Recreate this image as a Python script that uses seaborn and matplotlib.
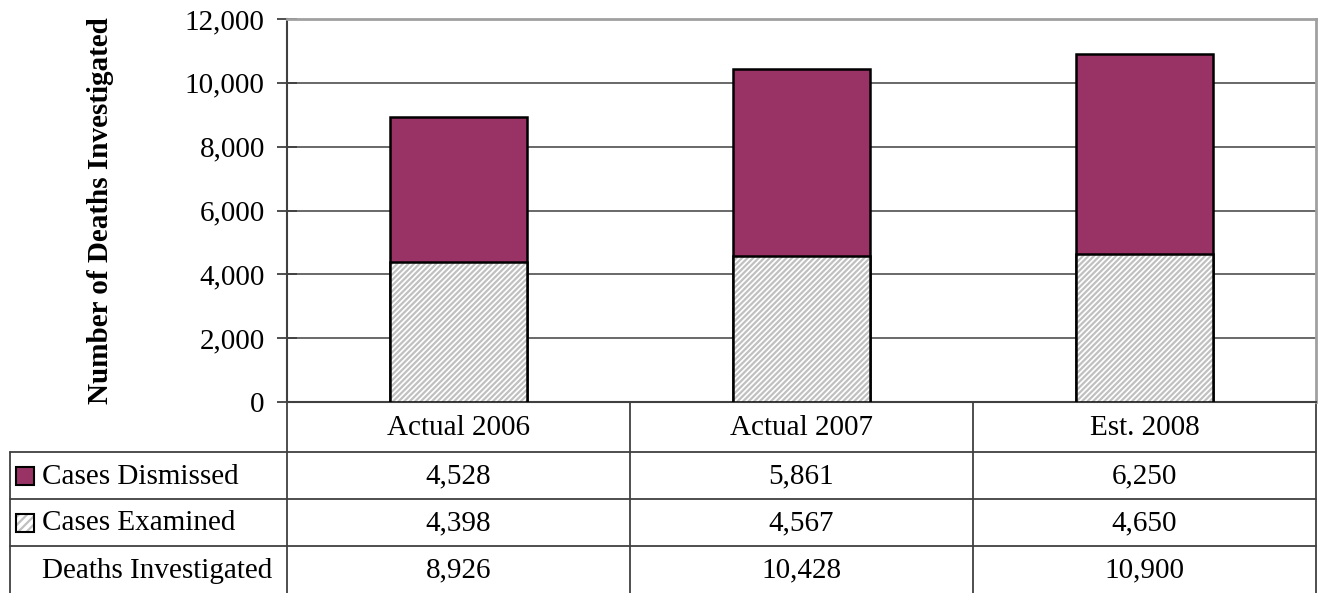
import numpy as np
import matplotlib
matplotlib.use("Agg")
import matplotlib.pyplot as plt
import seaborn as sns

# ------------------------------------------------------------
# DATA
# ------------------------------------------------------------
categories = ["Actual 2006", "Actual 2007", "Est. 2008"]
cases_dismissed = [4528, 5861, 6250]
cases_examined = [4398, 4567, 4650]
deaths_investigated = [8926, 10428, 10900]
row_labels = ["Cases Dismissed", "Cases Examined", "Deaths Investigated"]
y_ticks = [0, 2000, 4000, 6000, 8000, 10000, 12000]

MAROON = "#993366"
HATCH_GRAY = "#c0c0c0"
FS = 21

sns.set_theme(style="white")
plt.rcParams["font.family"] = ["Liberation Serif", "DejaVu Serif"]
plt.rcParams["text.color"] = "black"
plt.rcParams["axes.labelcolor"] = "black"
plt.rcParams["ytick.color"] = "black"
plt.rcParams["hatch.linewidth"] = 1.6

W, H = 1323, 593
fig = plt.figure(figsize=(W / 100, H / 100), dpi=100)

# plot area in pixel box
px_left, px_right, px_top, px_bottom = 287, 1316, 19, 402
ax = fig.add_axes([px_left / W, (H - px_bottom) / H,
                   (px_right - px_left) / W, (px_bottom - px_top) / H])

# total height = dismissed on top of examined
sns.barplot(x=categories, y=deaths_investigated, color=MAROON, width=0.4,
            edgecolor="black", linewidth=1.8, saturation=1, ax=ax, zorder=3)
sns.barplot(x=categories, y=cases_examined, color="white", width=0.4,
            hatch="//////", edgecolor=HATCH_GRAY, linewidth=0, saturation=1,
            ax=ax, zorder=4)
sns.barplot(x=categories, y=cases_examined, fill=False, width=0.4,
            edgecolor="black", linewidth=1.8, ax=ax, zorder=5)

ax.set_xlim(-0.5, 2.5)
ax.set_ylim(0, 12000)
ax.set_yticks(y_ticks)
ax.set_yticklabels([f"{v:,}" for v in y_ticks], fontsize=FS)
ax.set_xticks([])
ax.set_xlabel("")
ax.set_ylabel("Number of Deaths Investigated", fontsize=FS, fontweight="bold",
              labelpad=51)
ax.tick_params(axis="y", direction="inout", length=14, width=1.3,
               pad=9, left=True)
ax.tick_params(axis="y", color="#404040")
for v in y_ticks[1:-1]:
    ax.axhline(v, color="#404040", lw=1.1, zorder=1)
for side in ["top", "right"]:
    ax.spines[side].set_color("#a0a0a0")
    ax.spines[side].set_linewidth(2)
for side in ["left", "bottom"]:
    ax.spines[side].set_color("#404040")
    ax.spines[side].set_linewidth(1.5)

# ------------------------------------------------------------
# DATA TABLE BELOW THE CHART
# ------------------------------------------------------------
tab = fig.add_axes([0, 0, 1, 1], zorder=-1)
tab.set_xlim(0, W)
tab.set_ylim(H, 0)
tab.axis("off")

col_edges = [287, 630, 973, 1316]
row_edges = [402, 452, 499, 546, 593]
line_kw = dict(color="#404040", lw=1.3)

# header row
tab.plot([col_edges[0], col_edges[-1]], [row_edges[0], row_edges[0]], **line_kw)
for x in col_edges:
    tab.plot([x, x], [row_edges[0], H], **line_kw)
for y in row_edges[1:4]:
    tab.plot([10, col_edges[-1]], [y, y], **line_kw)
tab.plot([10, 10], [row_edges[1], H], **line_kw)

centers = [(a + b) / 2 for a, b in zip(col_edges[:-1], col_edges[1:])]
for cx, cat in zip(centers, categories):
    tab.text(cx, (row_edges[0] + row_edges[1]) / 2 + 1, cat, fontsize=FS,
             ha="center", va="center")

rows = [cases_dismissed, cases_examined, deaths_investigated]
for i, (label, vals) in enumerate(zip(row_labels, rows)):
    yc = (row_edges[i + 1] + row_edges[i + 2]) / 2 + 1
    tab.text(42, yc, label, fontsize=FS, ha="left", va="center")
    for cx, v in zip(centers, vals):
        tab.text(cx, yc, f"{v:,}", fontsize=FS, ha="center", va="center")

# legend keys in the table rows
for i, kind in enumerate(["solid", "hatched"]):
    yc = (row_edges[i + 1] + row_edges[i + 2]) / 2
    box = (16, yc - 9)
    if kind == "hatched":
        tab.add_patch(plt.Rectangle(box, 18, 18, facecolor="white",
                                    hatch="////", edgecolor=HATCH_GRAY, lw=0))
        tab.add_patch(plt.Rectangle(box, 18, 18, fill=False,
                                    edgecolor="black", lw=1.5))
    else:
        tab.add_patch(plt.Rectangle(box, 18, 18, facecolor=MAROON,
                                    edgecolor="black", lw=1.5))

fig.savefig("out.png", dpi=100)
